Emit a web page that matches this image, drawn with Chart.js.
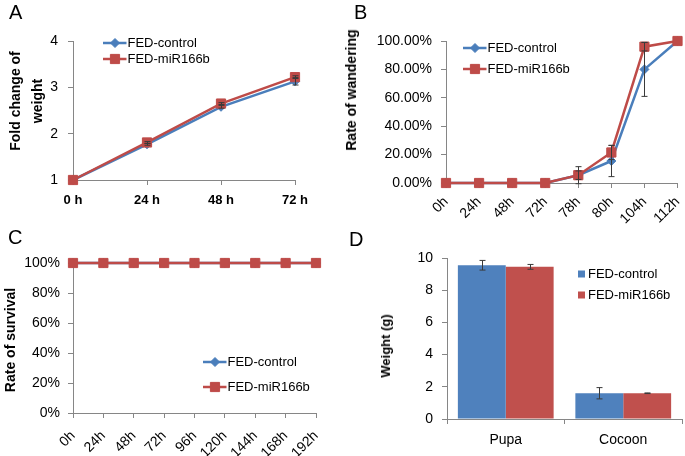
<!DOCTYPE html>
<html>
<head>
<meta charset="utf-8">
<script src="https://cdn.jsdelivr.net/npm/chart.js@4.4.0/dist/chart.umd.min.js"></script>
<style>
body { margin: 0; background: #fff; }
#figure { position: relative; width: 685px; height: 456px; overflow: hidden; font-family: "Liberation Sans", Arial, sans-serif; color: #000; }
#figure canvas { position: absolute; }
.letter { position: absolute; font-size: 20px; line-height: 1; }
.ytitle { position: absolute; font-size: 14px; font-weight: bold; line-height: 22px; text-align: center; white-space: nowrap; transform: translate(-50%, -50%) rotate(-90deg); }
</style>
</head>
<body>
<div id="figure">
  <canvas id="chartA" width="340" height="228" style="left:0;top:0"></canvas>
  <canvas id="chartB" width="345" height="228" style="left:340px;top:0"></canvas>
  <canvas id="chartC" width="340" height="228" style="left:0;top:228px"></canvas>
  <canvas id="chartD" width="345" height="228" style="left:340px;top:228px"></canvas>

  <div class="letter" style="left:9px;top:2px">A</div>
  <div class="letter" style="left:354px;top:2px">B</div>
  <div class="letter" style="left:8px;top:227px">C</div>
  <div class="letter" style="left:349px;top:229px">D</div>

  <div class="ytitle" style="left:26px;top:101px">Fold change of<br>weight</div>
  <div class="ytitle" style="left:351px;top:90px">Rate of wandering</div>
  <div class="ytitle" style="left:10px;top:340px">Rate of survival</div>
  <div class="ytitle" style="left:386px;top:346px;font-size:13px">Weight (g)</div>
</div>

<script>
// A - fold change of weight
var weightHours = ['0 h', '24 h', '48 h', '72 h'];
var weightControl = [1, 1.77, 2.58, 3.13];
var weightMir = [1, 1.81, 2.65, 3.22];
var weightControlErr = [0, 0.02, 0.03, 0.08];
var weightMirErr = [0, 0.02, 0.02, 0.03];

// B - rate of wandering
var wanderHours = ['0h', '24h', '48h', '72h', '78h', '80h', '104h', '112h'];
var wanderControl = [0, 0, 0, 0, 0.055, 0.155, 0.80, 1.0];
var wanderMir = [0, 0, 0, 0, 0.055, 0.215, 0.96, 1.0];
var wanderControlErr = [0, 0, 0, 0, 0.06, 0.11, 0.19, 0];
var wanderMirErr = [0, 0, 0, 0, 0.03, 0.05, 0.03, 0];

// C - rate of survival
var survivalHours = ['0h', '24h', '48h', '72h', '96h', '120h', '144h', '168h', '192h'];
var survivalControl = [1, 1, 1, 1, 1, 1, 1, 1, 1];
var survivalMir = [1, 1, 1, 1, 1, 1, 1, 1, 1];

// D - weight
var parts = ['Pupa', 'Cocoon'];
var partControl = [9.55, 1.6];
var partMir = [9.45, 1.6];
var partControlErr = [0.3, 0.35];
var partMirErr = [0.15, 0.02];

var seriesNames = ['FED-control', 'FED-miR166b'];

Chart.defaults.font.family = '"Liberation Sans", Arial, sans-serif';
Chart.defaults.color = '#000';
Chart.defaults.animation = false;

var AXIS = '#868686';
var BLUE = '#4a7ebb', RED = '#be4b48';
var BLUE_BAR = '#4f81bd', RED_BAR = '#c0504d';

function tickGrid(offset) {
    return {display: true, drawOnChartArea: false, drawTicks: true, tickLength: 5, color: AXIS, lineWidth: 1, offset: !!offset};
}
function fixedX(h) {
    return function (s) { s.height = h; s.paddingLeft = 0; s.paddingRight = 0; };
}
function fixedY(w) {
    return function (s) { s.width = w; s.paddingTop = 0; s.paddingBottom = 0; };
}

function drawMarker(ctx, style, r, x, y) {
    ctx.beginPath();
    if (style == 'rect') {
        var s = Math.SQRT1_2 * r;
        ctx.rect(x - s, y - s, 2 * s, 2 * s);
    } else {
        ctx.moveTo(x - r, y);
        ctx.lineTo(x, y - r);
        ctx.lineTo(x + r, y);
        ctx.lineTo(x, y + r);
        ctx.closePath();
    }
    ctx.fill();
    ctx.stroke();
}

// error bars, read from dataset.errors
var errorBarPlugin = {
    id: 'errorBars',
    afterDatasetsDraw: function (chart) {
        var ctx = chart.ctx;
        var yScale = chart.scales.y;
        ctx.save();
        ctx.strokeStyle = '#3a3a3a';
        ctx.lineWidth = 1;
        chart.data.datasets.forEach(function (ds, di) {
            if (!ds.errors) return;
            var meta = chart.getDatasetMeta(di);
            ds.errors.forEach(function (e, i) {
                if (!e) return;
                var x = Math.round(meta.data[i].x) + 0.5;
                var top = yScale.getPixelForValue(ds.data[i] + e);
                var bot = yScale.getPixelForValue(ds.data[i] - e);
                ctx.beginPath();
                ctx.moveTo(x, top); ctx.lineTo(x, bot);
                ctx.moveTo(x - 3, top); ctx.lineTo(x + 3, top);
                ctx.moveTo(x - 3, bot); ctx.lineTo(x + 3, bot);
                ctx.stroke();
            });
        });
        ctx.restore();
    }
};

var legendPlugin = {
    id: 'miniLegend',
    afterDraw: function (chart, args, opts) {
        var ctx = chart.ctx;
        ctx.save();
        ctx.font = '13px "Liberation Sans", Arial, sans-serif';
        ctx.textBaseline = 'middle';
        chart.data.datasets.forEach(function (ds, i) {
            var x = opts.x, y = opts.y + i * opts.gap, tx;
            if (opts.box) {
                ctx.fillStyle = ds.backgroundColor;
                ctx.fillRect(x, y - 3.5, 7, 7);
                tx = x + 10;
            } else {
                ctx.strokeStyle = ds.borderColor;
                ctx.lineWidth = ds.borderWidth;
                ctx.beginPath();
                ctx.moveTo(x, y); ctx.lineTo(x + 23.5, y);
                ctx.stroke();
                ctx.fillStyle = ds.pointBackgroundColor;
                ctx.lineWidth = 1;
                drawMarker(ctx, ds.pointStyle, ds.pointRadius, x + 12, y);
                tx = x + 24.5;
            }
            ctx.fillStyle = '#000';
            ctx.fillText(ds.label, tx, y);
        });
        ctx.restore();
    }
};

function lineSets(control, mir, controlErr, mirErr) {
    return [{
        label: seriesNames[0], data: control, errors: controlErr,
        borderColor: BLUE, backgroundColor: BLUE, borderWidth: 2.5,
        pointStyle: 'rectRot', pointRadius: 4.5, pointBackgroundColor: BLUE,
        pointBorderColor: BLUE, pointBorderWidth: 1, tension: 0, clip: false, order: 1
    }, {
        label: seriesNames[1], data: mir, errors: mirErr,
        borderColor: RED, backgroundColor: RED, borderWidth: 2.5,
        pointStyle: 'rect', pointRadius: 6.5, pointBackgroundColor: RED,
        pointBorderColor: RED, pointBorderWidth: 1, tension: 0, clip: false, order: 0
    }];
}

function baseOptions(pad, legend) {
    return {
        responsive: false,
        layout: {padding: pad},
        plugins: {legend: {display: false}, tooltip: {enabled: false}, miniLegend: legend}
    };
}

// A
var optsA = baseOptions({left: 0, top: 41, right: 45, bottom: 0}, {x: 103, y: 43, gap: 16});
optsA.scales = {
    x: {grid: tickGrid(), border: {color: AXIS}, ticks: {font: {size: 13, weight: 'bold'}, padding: 8, maxRotation: 0}, afterFit: fixedX(48)},
    y: {min: 1, max: 4, ticks: {stepSize: 1, font: {size: 14}, padding: 10}, grid: tickGrid(), border: {color: AXIS}, afterFit: fixedY(73)}
};
new Chart(document.getElementById('chartA'), {
    type: 'line',
    data: {labels: weightHours, datasets: lineSets(weightControl, weightMir, weightControlErr, weightMirErr)},
    options: optsA,
    plugins: [errorBarPlugin, legendPlugin]
});

// B
var optsB = baseOptions({left: 0, top: 41, right: 6, bottom: 0}, {x: 123, y: 48, gap: 21});
optsB.scales = {
    x: {grid: tickGrid(), border: {color: AXIS}, ticks: {font: {size: 14, lineHeight: 1.7}, padding: 3, minRotation: 45, maxRotation: 45, autoSkip: false}, afterFit: fixedX(45)},
    y: {min: 0, max: 1, ticks: {stepSize: 0.2, font: {size: 14}, padding: 9, callback: function (v) { return (v * 100).toFixed(2) + '%'; }},
        grid: tickGrid(), border: {color: AXIS}, afterFit: fixedY(106)}
};
new Chart(document.getElementById('chartB'), {
    type: 'line',
    data: {labels: wanderHours, datasets: lineSets(wanderControl, wanderMir, wanderControlErr, wanderMirErr)},
    options: optsB,
    plugins: [errorBarPlugin, legendPlugin]
});

// C
var optsC = baseOptions({left: 0, top: 35, right: 24, bottom: 0}, {x: 203, y: 134, gap: 25});
optsC.scales = {
    x: {grid: tickGrid(), border: {color: AXIS}, ticks: {font: {size: 14, lineHeight: 1.7}, padding: 7, minRotation: 45, maxRotation: 45, autoSkip: false}, afterFit: fixedX(43)},
    y: {min: 0, max: 1, ticks: {stepSize: 0.2, font: {size: 14}, padding: 8, callback: function (v) { return Math.round(v * 100) + '%'; }},
        grid: tickGrid(), border: {color: AXIS}, afterFit: fixedY(73)}
};
new Chart(document.getElementById('chartC'), {
    type: 'line',
    data: {labels: survivalHours, datasets: lineSets(survivalControl, survivalMir, null, null)},
    options: optsC,
    plugins: [errorBarPlugin, legendPlugin]
});

// D
var optsD = baseOptions({left: 0, top: 30, right: 3, bottom: 0}, {x: 238, y: 46, gap: 21, box: true});
optsD.scales = {
    x: {offset: true, grid: tickGrid(true), border: {color: AXIS}, ticks: {font: {size: 14}, padding: 8}, afterFit: fixedX(37)},
    y: {min: 0, max: 10, ticks: {stepSize: 2, font: {size: 14}, padding: 9}, grid: tickGrid(), border: {color: AXIS}, afterFit: fixedY(107)}
};
new Chart(document.getElementById('chartD'), {
    type: 'bar',
    data: {
        labels: parts,
        datasets: [{
            label: seriesNames[0], data: partControl, errors: partControlErr,
            backgroundColor: BLUE_BAR, borderWidth: 0, barPercentage: 1, categoryPercentage: 0.815
        }, {
            label: seriesNames[1], data: partMir, errors: partMirErr,
            backgroundColor: RED_BAR, borderWidth: 0, barPercentage: 1, categoryPercentage: 0.815
        }]
    },
    options: optsD,
    plugins: [errorBarPlugin, legendPlugin]
});
</script>
</body>
</html>
